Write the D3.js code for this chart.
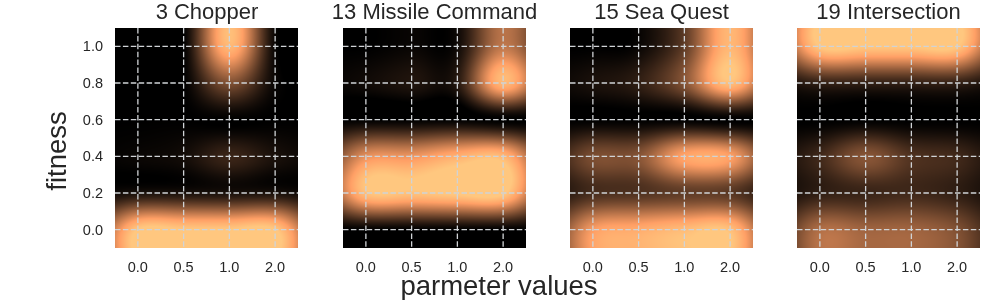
<!doctype html>
<html>
<head>
<meta charset="utf-8">
<script src="https://d3js.org/d3.v7.min.js"></script>
<style>
	html, body { margin: 0; padding: 0; background: #fff; }
	#chart { position: relative; width: 1000px; height: 300px; overflow: hidden; }
	#chart canvas { position: absolute; }
	#chart svg { position: absolute; left: 0; top: 0; }
	text { font-family: "Liberation Sans", Arial, sans-serif; fill: #262626; }
</style>
</head>
<body>
<div id="chart"></div>
<script>
// values, colour scale clips at 1
const titles = ["3 Chopper", "13 Missile Command", "15 Sea Quest", "19 Intersection"];
const paramValues = ["0.0", "0.5", "1.0", "2.0"];
const fitnessValues = [1.0, 0.8, 0.6, 0.4, 0.2, 0.0];
const yTicks = [0.0, 0.2, 0.4, 0.6, 0.8, 1.0];

const chopper = [
	[0.00, 0.00, 0.92, 0.03],
	[0.00, 0.00, 0.40, 0.03],
	[0.00, 0.00, 0.00, 0.00],
	[0.03, 0.06, 0.18, 0.08],
	[0.08, 0.08, 0.08, 0.08],
	[1.00, 1.00, 1.00, 1.00]
];
const missile = [
	[0.00, 0.03, 0.05, 0.60],
	[0.05, 0.10, 0.12, 0.92],
	[0.00, 0.00, 0.00, 0.00],
	[0.72, 0.75, 0.88, 0.92],
	[0.96, 0.97, 1.02, 1.02],
	[0.00, 0.00, 0.00, 0.00]
];
const seaQuest = [
	[0.00, 0.03, 0.30, 0.92],
	[0.08, 0.15, 0.42, 0.96],
	[0.00, 0.00, 0.00, 0.00],
	[0.38, 0.42, 0.82, 0.80],
	[0.22, 0.25, 0.30, 0.28],
	[0.78, 0.86, 0.94, 0.96]
];
const intersection = [
	[1.00, 1.00, 1.00, 1.00],
	[0.16, 0.16, 0.16, 0.16],
	[0.00, 0.00, 0.00, 0.00],
	[0.20, 0.42, 0.25, 0.20],
	[0.15, 0.18, 0.20, 0.15],
	[0.55, 0.50, 0.50, 0.40]
];
const panels = [chopper, missile, seaQuest, intersection];

const panelLefts = [115, 343, 570, 797];
const panelWidth = 183;
const plotTop = 28, plotBottom = 248;
const edgeFade = 0.3;

const svg = d3.select("#chart").append("svg").attr("width", 1000).attr("height", 300);

// matplotlib's copper map
const copper = function (v) {
	const t = Math.max(0, Math.min(1, v));
	return [Math.min(255, 255 * 1.25 * t), 255 * 0.7812 * t, 255 * 0.4975 * t];
};

const cubic = function (a, b, c, d, t) {
	return b + 0.5 * t * (c - a + t * (2 * a - 5 * b + 4 * c - d + t * (3 * (b - c) + d - a)));
};

// bicubic lookup, columns fade towards the side edges, rows hold their last value
const sample = function (grid, cx, cy) {
	const nr = grid.length, nc = grid[0].length;
	const row = function (r, c) {
		const rr = grid[Math.max(0, Math.min(nr - 1, r))];
		if (c < 0) return rr[0] * Math.pow(edgeFade, -c);
		if (c >= nc) return rr[nc - 1] * Math.pow(edgeFade, c - nc + 1);
		return rr[c];
	};
	const ci = Math.floor(cx), ri = Math.floor(cy);
	const tx = cx - ci, ty = cy - ri;
	const vals = [-1, 0, 1, 2].map(function (o) {
		return cubic(row(ri + o, ci - 1), row(ri + o, ci), row(ri + o, ci + 1), row(ri + o, ci + 2), tx);
	});
	return cubic(vals[0], vals[1], vals[2], vals[3], ty);
};

panels.forEach(function (grid, p) {
	const left = panelLefts[p];
	const x = d3.scalePoint().domain(paramValues).range([left, left + panelWidth]).padding(0.5);
	const y = d3.scaleLinear().domain([-0.1, 1.1]).range([plotBottom, plotTop]);

	const colStep = x.step();
	const rowStep = y(0) - y(0.2);
	const w = panelWidth, h = plotBottom - plotTop;

	const canvas = d3.select("#chart").insert("canvas", "svg")
		.attr("width", w).attr("height", h)
		.style("left", left + "px").style("top", plotTop + "px");
	const ctx = canvas.node().getContext("2d");
	const img = ctx.createImageData(w, h);
	for (let j = 0; j < h; j++) {
		for (let i = 0; i < w; i++) {
			const cx = (left + i + 0.5 - x(paramValues[0])) / colStep;
			const cy = (plotTop + j + 0.5 - y(fitnessValues[0])) / rowStep;
			const c = copper(sample(grid, cx, cy));
			const k = (j * w + i) * 4;
			img.data[k] = c[0]; img.data[k + 1] = c[1]; img.data[k + 2] = c[2]; img.data[k + 3] = 255;
		}
	}
	ctx.putImageData(img, 0, 0);

	const g = svg.append("g");

	// dashed grid
	g.selectAll(".vgrid").data(paramValues).join("line")
		.attr("x1", function (d) { return x(d); }).attr("x2", function (d) { return x(d); })
		.attr("y1", plotTop).attr("y2", plotBottom);
	g.selectAll(".hgrid").data(yTicks).join("line")
		.attr("x1", left).attr("x2", left + panelWidth)
		.attr("y1", function (d) { return y(d); }).attr("y2", function (d) { return y(d); });
	g.selectAll("line")
		.attr("stroke", "#d0d3d6").attr("stroke-width", 1.3).attr("stroke-dasharray", "5.5,2.4");

	g.selectAll(".xlab").data(paramValues).join("text")
		.attr("x", function (d) { return x(d); }).attr("y", 272)
		.attr("text-anchor", "middle").attr("font-size", 14.5).text(function (d) { return d; });

	if (p === 0) {
		g.selectAll(".ylab").data(yTicks).join("text")
			.attr("x", 103).attr("y", function (d) { return y(d) + 5; })
			.attr("text-anchor", "end").attr("font-size", 14.5).text(function (d) { return d.toFixed(1); });
	}

	g.append("text").attr("x", left + panelWidth / 2 + (p === 0 ? 0.5 : 0)).attr("y", 19)
		.attr("text-anchor", "middle").attr("font-size", 22).text(titles[p]);
});

svg.append("text").attr("x", 499).attr("y", 295)
	.attr("text-anchor", "middle").attr("font-size", 27.5).text("parmeter values");
svg.append("text").attr("transform", "translate(66,151) rotate(-90)")
	.attr("text-anchor", "middle").attr("font-size", 27.5).text("fitness");
</script>
</body>
</html>
